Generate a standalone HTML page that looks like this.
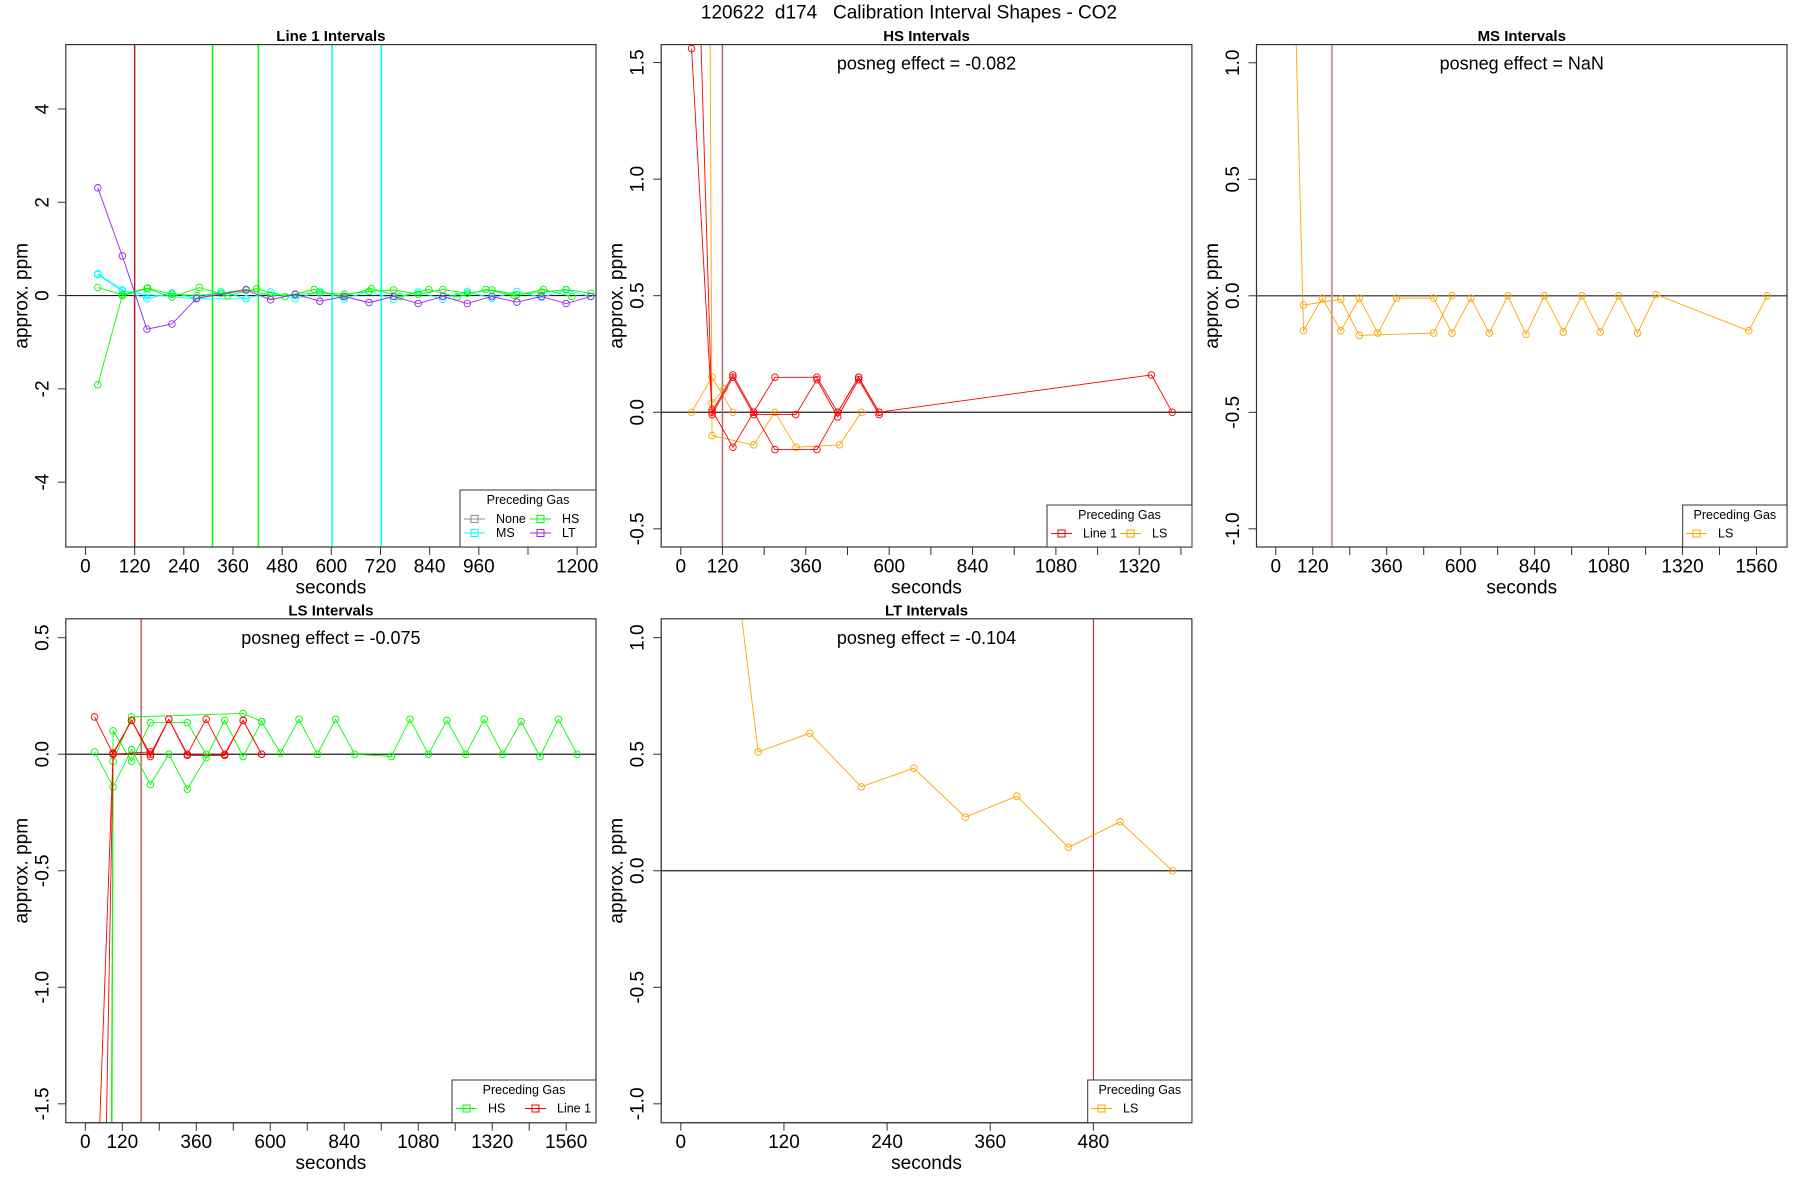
<!DOCTYPE html>
<html><head><meta charset="utf-8"><title>Calibration Interval Shapes - CO2</title>
<style>
html,body{margin:0;padding:0;background:#fff;width:1800px;height:1200px;overflow:hidden;position:relative;}
svg{display:block;position:absolute;left:0;top:0;font-family:"Liberation Sans",Arial,sans-serif;}
script{display:none;}
</style></head>
<body>
<svg id="chart" xmlns="http://www.w3.org/2000/svg" width="1800" height="1200" viewBox="0 0 1800 1200">
<rect x="0" y="0" width="1800" height="1200" fill="#fff"/>
<text x="909" y="13" font-size="19" text-anchor="middle" dominant-baseline="central" xml:space="preserve" style="white-space:pre">120622  d174   Calibration Interval Shapes - CO2</text>
</svg>
<script>
// ---------- Panel 1: Line 1 Intervals ----------
const p1_LT_x=[30,90,150,211,271,392,452,512,572,632,692,752,812,872,932,992,1053,1113,1173,1233];
const p1_LT_y=[2.31,0.85,-0.72,-0.61,-0.06,0.12,-0.09,0.03,-0.12,-0.02,-0.15,-0.02,-0.17,-0.02,-0.17,-0.02,-0.14,-0.02,-0.17,-0.02];
const p1_MS_x=[30,90,150,211,271,331,392,452,512,572,632,692,752,812,872,932,992,1053,1113,1173,1233];
const p1_MS_y=[0.47,0.12,-0.07,0.06,-0.06,0.09,-0.07,0.08,-0.07,0.09,-0.07,0.09,-0.08,0.08,-0.08,0.09,-0.06,0.09,-0.04,0.12,-0.02];
const p1_MS2_x=[30,90,150,271,392];
const p1_MS2_y=[0.45,0.10,0.02,-0.07,-0.07];
const p1_HSa_x=[30,90,150,211,278,347,418,487,558,627,698,767,838,907,977,1046,1118,1187];
const p1_HSa_y=[-1.91,0.0,0.15,-0.03,0.17,0.0,0.15,-0.02,0.13,-0.02,0.15,-0.02,0.13,-0.03,0.13,0.0,0.13,-0.02];
const p1_HSb_x=[30,90,152,211,272,331,392,452,512,572,632,692,752,812,872,932,992,1053,1113,1173,1233];
const p1_HSb_y=[0.17,0.02,0.16,0.03,0.0,0.05,0.13,0.0,0.02,0.06,0.03,0.09,0.12,0.03,0.13,0.05,0.12,0.02,0.07,0.13,0.05];
const p1_None_x=[272,392];
const p1_None_y=[-0.05,0.13];
const p1_vl_red=[120];
const p1_vl_green=[310,422];
const p1_vl_cyan=[602,722];
const p1_xticks=[0,120,240,360,480,600,720,840,960,1080,1200];
const p1_xlabels=["0","120","240","360","480","600","720","840","960","","1200"];
const p1_yticks=[-4,-2,0,2,4];
const p1_ylabels=["-4","-2","0","2","4"];

// ---------- Panel 2: HS Intervals ----------
const p2_R1_x=[31,90,150,210,271,392,452,512,571,1355,1415];
const p2_R1_y=[1.56,0.0,0.16,0.0,0.15,0.15,0.0,0.15,0.0,0.16,0.0];
const p2_R2_x=[40,90,150,210,331,392,452,512,571];
const p2_R2_y=[2.5,-0.01,0.15,-0.01,-0.01,0.14,-0.02,0.14,-0.01];
const p2_R3_x=[90,150,210,271,392,452,512,571];
const p2_R3_y=[0.01,-0.15,0.0,-0.16,-0.16,0.0,0.15,0.0];
const p2_O1_x=[31,90,150];
const p2_O1_y=[0.0,0.15,0.0];
const p2_O2_x=[80,90,210,271,332,457,520];
const p2_O2_y=[3.0,-0.10,-0.14,0.0,-0.15,-0.14,0.0];
const p2_O3_x=[90,125];
const p2_O3_y=[0.04,0.10];
const p2_vl=[120];
const p2_xticks=[0,120,240,360,480,600,720,840,960,1080,1200,1320,1440];
const p2_xlabels=["0","120","","360","","600","","840","","1080","","1320",""];
const p2_yticks=[-0.5,0,0.5,1,1.5];
const p2_ylabels=["-0.5","0.0","0.5","1.0","1.5"];

// ---------- Panel 3: MS Intervals ----------
const p3_A_x=[62,90,151,211,271,331,392,512,572,633,693,753,812,872,933,993,1053,1113,1174,1234,1535,1595];
const p3_A_y=[1.3,-0.15,-0.01,-0.15,-0.01,-0.16,-0.01,-0.01,-0.16,-0.01,-0.16,0.0,-0.165,0.0,-0.155,0.0,-0.155,0.0,-0.16,0.005,-0.15,0.0];
const p3_B_x=[90,211,271,512,572];
const p3_B_y=[-0.04,-0.015,-0.17,-0.16,0.0];
const p3_vl=[182];
const p3_xticks=[0,120,240,360,480,600,720,840,960,1080,1200,1320,1440,1560];
const p3_xlabels=["0","120","","360","","600","","840","","1080","","1320","","1560"];
const p3_yticks=[-1,-0.5,0,0.5,1];
const p3_ylabels=["-1.0","-0.5","0.0","0.5","1.0"];

// ---------- Panel 4: LS Intervals ----------
const p4_G1_x=[30,90,150,211,271,331,392,452,512,572,633,693,753,812,874,993,1053,1113,1173,1234,1294,1354,1414,1475,1535,1595];
const p4_G1_y=[0.01,-0.14,0.02,-0.13,0.0,-0.15,-0.015,0.145,-0.01,0.14,0.005,0.15,0.0,0.15,0.0,-0.01,0.15,0.0,0.145,0.0,0.15,0.0,0.14,-0.01,0.15,0.0];
const p4_G2_x=[83.7,90,150,211,331,392];
const p4_G2_y=[-1.85,0.10,-0.03,0.135,0.135,0.0];
const p4_G3_x=[86.3,90,150,512,572];
const p4_G3_y=[-1.85,-0.03,0.16,0.175,0.14];
const p4_R1_x=[30,90,150,211,271,331,392,452,512,572];
const p4_R1_y=[0.16,0.0,0.145,0.0,0.15,0.0,0.15,0.0,0.145,0.0];
const p4_R2_x=[39.5,90,150,211,271,331,452,512,572];
const p4_R2_y=[-1.85,0.005,0.145,-0.01,0.15,-0.005,-0.005,0.145,0.0];
const p4_R3_x=[64.8,90,211];
const p4_R3_y=[-1.85,0.0,0.01];
const p4_vl=[181];
const p4_xticks=[0,120,240,360,480,600,720,840,960,1080,1200,1320,1440,1560];
const p4_xlabels=["0","120","","360","","600","","840","","1080","","1320","","1560"];
const p4_yticks=[-1.5,-1,-0.5,0,0.5];
const p4_ylabels=["-1.5","-1.0","-0.5","0.0","0.5"];

// ---------- Panel 5: LT Intervals ----------
const p5_O_x=[30,90,150,210,271,331,391,451,511,572];
const p5_O_y=[2.31,0.51,0.59,0.36,0.44,0.23,0.32,0.10,0.21,0.0];
const p5_vl=[480];
const p5_xticks=[0,120,240,360,480];
const p5_xlabels=["0","120","240","360","480"];
const p5_yticks=[-1,-0.5,0,0.5,1];
const p5_ylabels=["-1.0","-0.5","0.0","0.5","1.0"];

const NS="http://www.w3.org/2000/svg";
const svg=document.getElementById('chart');
function mk(tag,attrs,parent){const e=document.createElementNS(NS,tag);for(const k in attrs)e.setAttribute(k,attrs[k]);(parent||svg).appendChild(e);return e;}

function makePanel(cfg){
  const g=mk('g',{});
  
  
  const sx=v=>cfg.L+(v-cfg.xmin)/(cfg.xmax-cfg.xmin)*(cfg.R-cfg.L);
  const sy=v=>cfg.B-(v-cfg.ymin)/(cfg.ymax-cfg.ymin)*(cfg.B-cfg.T);
  const cid='clip-'+cfg.key;
  const cp=mk('clipPath',{id:cid},g);
  mk('rect',{x:cfg.L,y:cfg.T,width:cfg.R-cfg.L,height:cfg.B-cfg.T},cp);
  const plot=mk('g',{'clip-path':'url(#'+cid+')'},g);
  
  
  const t=mk('text',{x:(cfg.L+cfg.R)/2,y:cfg.T-8,'font-size':15,'font-weight':'bold','text-anchor':'middle','dominant-baseline':'central'},g);
  t.textContent=cfg.title;
  
  
  if(cfg.posneg){
    const pt=mk('text',{x:(cfg.L+cfg.R)/2,y:cfg.T+19,'font-size':18,'text-anchor':'middle','dominant-baseline':'central'},g);
    pt.textContent=cfg.posneg;
    
    
  }
  const xa=mk('g',{},g);
  
  
  const xt0=cfg.xticks[0], xt1=cfg.xticks[cfg.xticks.length-1];
  mk('line',{x1:sx(xt0),x2:sx(xt1),y1:cfg.B,y2:cfg.B,stroke:'#333','stroke-width':1},xa);
  cfg.xticks.forEach((v,i)=>{
    mk('line',{x1:sx(v),x2:sx(v),y1:cfg.B,y2:cfg.B+8,stroke:'#333','stroke-width':1},xa);
    if(cfg.xlabels[i]){
      const tl=mk('text',{x:sx(v),y:cfg.B+20,'font-size':19,'text-anchor':'middle','dominant-baseline':'central'},xa);
      tl.textContent=cfg.xlabels[i];
      
      
    }
  });
  const xt=mk('text',{x:(cfg.L+cfg.R)/2,y:cfg.B+41,'font-size':19,'text-anchor':'middle','dominant-baseline':'central'},g);
  xt.textContent='seconds';
  
  
  const ya=mk('g',{},g);
  
  
  const yt0=cfg.yticks[0], yt1=cfg.yticks[cfg.yticks.length-1];
  mk('line',{x1:cfg.L,x2:cfg.L,y1:sy(yt0),y2:sy(yt1),stroke:'#333','stroke-width':1},ya);
  cfg.yticks.forEach((v,i)=>{
    mk('line',{x1:cfg.L-8,x2:cfg.L,y1:sy(v),y2:sy(v),stroke:'#333','stroke-width':1},ya);
    const cx=cfg.L-23, cy=sy(v);
    const tl=mk('text',{x:cx,y:cy,'font-size':19,'text-anchor':'middle','dominant-baseline':'central',transform:'rotate(-90 '+cx+' '+cy+')'},ya);
    tl.textContent=cfg.ylabels[i];
    
    
  });
  const ycx=cfg.L-44, ycy=(cfg.T+cfg.B)/2;
  const yt=mk('text',{x:ycx,y:ycy,'font-size':19,'text-anchor':'middle','dominant-baseline':'central',transform:'rotate(-90 '+ycx+' '+ycy+')'},g);
  yt.textContent='approx. ppm';
  
  
  const zl=mk('line',{x1:cfg.L,x2:cfg.R,y1:sy(0),y2:sy(0),stroke:'#222','stroke-width':1.2},plot);
  
  
  return {g,plot,sx,sy,cfg};
}

function vlines(P,vals,color,w){
  vals.forEach(v=>{
    const l=mk('line',{x1:P.sx(v),x2:P.sx(v),y1:P.cfg.T,y2:P.cfg.B,stroke:color,'stroke-width':w},P.plot);
    
    
  });
}
function series(P,xs,ys,color,name){
  const sg=mk('g',{},P.plot);
  
  
  const pts=xs.map((x,i)=>P.sx(x).toFixed(1)+','+P.sy(ys[i]).toFixed(1)).join(' ');
  const pl=mk('polyline',{points:pts,fill:'none',stroke:color,'stroke-width':0.9},sg);
  
  
  xs.forEach((x,i)=>{
    const c=mk('circle',{cx:P.sx(x),cy:P.sy(ys[i]),r:3.3,fill:'none',stroke:color,'stroke-width':0.9},sg);
    
    
  });
}
function legend(P,box,entries){
  const lg=mk('g',{},P.g);
  
  
  mk('rect',{x:box.x,y:box.y,width:box.w,height:box.h,fill:'#fff',stroke:'#333','stroke-width':1},lg);
  const tt=mk('text',{x:box.x+box.w/2,y:box.y+10,'font-size':12.5,'text-anchor':'middle','dominant-baseline':'central'},lg);
  tt.textContent='Preceding Gas';
  
  
  entries.forEach(e=>{
    const eg=mk('g',{},lg);
    
    
    mk('line',{x1:e.x,x2:e.x+21,y1:e.y,y2:e.y,stroke:e.c,'stroke-width':1},eg);
    mk('rect',{x:e.x+7,y:e.y-3.5,width:7,height:7,fill:'none',stroke:e.c,'stroke-width':1},eg);
    const tx=mk('text',{x:e.x+32,y:e.y,'font-size':12.5,'dominant-baseline':'central'},eg);
    tx.textContent=e.t;
  });
}
function frame(P){
  const f=mk('rect',{x:P.cfg.L,y:P.cfg.T,width:P.cfg.R-P.cfg.L,height:P.cfg.B-P.cfg.T,fill:'none',stroke:'#333','stroke-width':1.2},P.g);
  
  
}

const GREEN='#00ff00',CYAN='#00ffff',PURPLE='#a020f0',ORANGE='#ffa500',RED='#ff0000',GRAY='#8c8c8c';

const P1=makePanel({key:'line1',title:'Line 1 Intervals',L:65.8,R:596,T:44.6,B:547,xmin:-48,xmax:1246,ymin:-5.39,ymax:5.38,xticks:p1_xticks,xlabels:p1_xlabels,yticks:p1_yticks,ylabels:p1_ylabels});
vlines(P1,p1_vl_red,'#b22222',1.5);
vlines(P1,p1_vl_green,GREEN,1.5);
vlines(P1,p1_vl_cyan,CYAN,1.5);
series(P1,p1_None_x,p1_None_y,GRAY,'none-series');
series(P1,p1_MS_x,p1_MS_y,CYAN,'ms-series');
series(P1,p1_MS2_x,p1_MS2_y,CYAN,'ms-series-2');
series(P1,p1_HSa_x,p1_HSa_y,GREEN,'hs-series');
series(P1,p1_HSb_x,p1_HSb_y,GREEN,'hs-series-2');
series(P1,p1_LT_x,p1_LT_y,PURPLE,'lt-series');
frame(P1);
legend(P1,{x:460,y:490,w:136,h:57},[{x:464,y:519,c:GRAY,t:'None'},{x:464,y:533,c:CYAN,t:'MS'},{x:530,y:519,c:GREEN,t:'HS'},{x:530,y:533,c:PURPLE,t:'LT'}]);

const P2=makePanel({key:'hs',title:'HS Intervals',posneg:'posneg effect = -0.082',L:661.2,R:1191.9,T:44.6,B:547,xmin:-56.4,xmax:1471.6,ymin:-0.578,ymax:1.577,xticks:p2_xticks,xlabels:p2_xlabels,yticks:p2_yticks,ylabels:p2_ylabels});
vlines(P2,p2_vl,'#b07070',1.5);
series(P2,p2_O1_x,p2_O1_y,ORANGE,'ls-series');
series(P2,p2_O2_x,p2_O2_y,ORANGE,'ls-series-2');
series(P2,p2_O3_x,p2_O3_y,ORANGE,'ls-series-3');
series(P2,p2_R1_x,p2_R1_y,RED,'line1-series');
series(P2,p2_R2_x,p2_R2_y,RED,'line1-series-2');
series(P2,p2_R3_x,p2_R3_y,RED,'line1-series-3');
frame(P2);
legend(P2,{x:1047,y:505,w:145,h:42},[{x:1051,y:533.5,c:RED,t:'Line 1'},{x:1120,y:533.5,c:ORANGE,t:'LS'}]);

const P3=makePanel({key:'ms',title:'MS Intervals',posneg:'posneg effect = NaN',L:1256.5,R:1787,T:44.6,B:547,xmin:-62.6,xmax:1659,ymin:-1.078,ymax:1.078,xticks:p3_xticks,xlabels:p3_xlabels,yticks:p3_yticks,ylabels:p3_ylabels});
vlines(P3,p3_vl,'#d49a9a',2);
series(P3,p3_A_x,p3_A_y,ORANGE,'ls-series');
series(P3,p3_B_x,p3_B_y,ORANGE,'ls-series-2');
frame(P3);
legend(P3,{x:1682.7,y:505,w:104.3,h:42},[{x:1686,y:533.5,c:ORANGE,t:'LS'}]);

const P4=makePanel({key:'ls',title:'LS Intervals',posneg:'posneg effect = -0.075',L:65.8,R:596,T:618.8,B:1122.7,xmin:-63.3,xmax:1656.7,ymin:-1.581,ymax:0.581,xticks:p4_xticks,xlabels:p4_xlabels,yticks:p4_yticks,ylabels:p4_ylabels});
vlines(P4,p4_vl,'#a01818',1);
series(P4,p4_G1_x,p4_G1_y,GREEN,'hs-series');
series(P4,p4_G2_x,p4_G2_y,GREEN,'hs-series-2');
series(P4,p4_G3_x,p4_G3_y,GREEN,'hs-series-3');
series(P4,p4_R1_x,p4_R1_y,RED,'line1-series');
series(P4,p4_R2_x,p4_R2_y,RED,'line1-series-2');
series(P4,p4_R3_x,p4_R3_y,RED,'line1-series-3');
frame(P4);
legend(P4,{x:452,y:1080,w:144,h:42.7},[{x:456,y:1108.5,c:GREEN,t:'HS'},{x:525,y:1108.5,c:RED,t:'Line 1'}]);

const P5=makePanel({key:'lt',title:'LT Intervals',posneg:'posneg effect = -0.104',L:661.2,R:1191.9,T:618.8,B:1122.7,xmin:-22.8,xmax:594.6,ymin:-1.081,ymax:1.081,xticks:p5_xticks,xlabels:p5_xlabels,yticks:p5_yticks,ylabels:p5_ylabels});
vlines(P5,p5_vl,'#a01818',1);
series(P5,p5_O_x,p5_O_y,ORANGE,'ls-series');
frame(P5);
legend(P5,{x:1087.7,y:1080,w:104.2,h:42.7},[{x:1091,y:1108.5,c:ORANGE,t:'LS'}]);
</script>
</body></html>
